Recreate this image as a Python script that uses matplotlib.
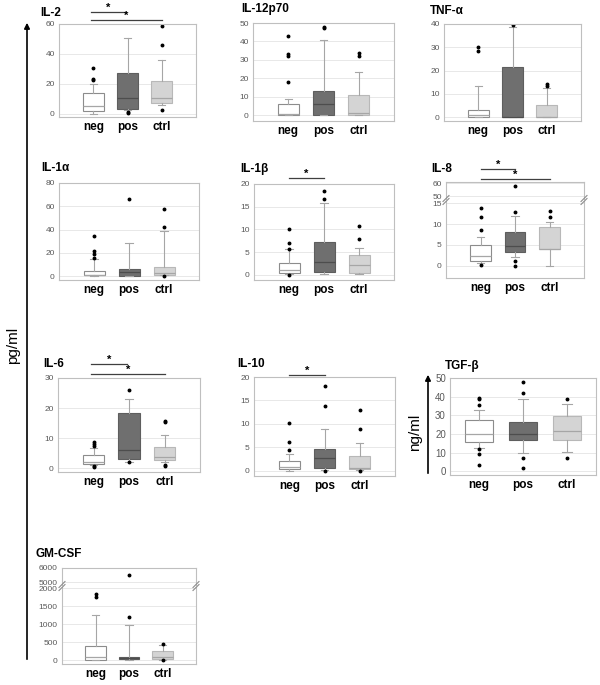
import matplotlib
matplotlib.use('Agg')
import matplotlib.pyplot as plt
from matplotlib.patches import FancyArrowPatch
from matplotlib.lines import Line2D
from matplotlib.transforms import blended_transform_factory

plt.rcParams['font.family'] = ['Liberation Sans', 'DejaVu Sans']

W, H = 600, 685
groups = ['neg', 'pos', 'ctrl']

# box stats per cytokine: whisker low, q1, median, q3, whisker high, outliers
il2_low = [0, 2.5, 6]
il2_q1 = [2.2, 3.1, 7.1]
il2_med = [5.5, 10.6, 10.6]
il2_q3 = [13.7, 27.2, 21.9]
il2_high = [20, 51, 36]
il2_out = [[30.5, 23.2, 22.4], [1.2, 0.5], [58.7, 45.8, 2.4]]

il12_low = [0, 0, 0]
il12_q1 = [0, 0.5, 0.3]
il12_med = [0.9, 6.0, 1.4]
il12_q3 = [6.0, 13.4, 11.0]
il12_high = [9, 40.8, 23.4]
il12_out = [[42.8, 33.2, 32.4, 18.1], [47.8, 47.3], [33.7, 31.9]]

tnf_low = [0, 0, 0]
tnf_q1 = [0, 0, 0]
tnf_med = [1.0, 0.2, 0.2]
tnf_q3 = [3.2, 21.4, 5.0]
tnf_high = [13.4, 38.5, 12.5]
tnf_out = [[30.3, 28.6], [39.5], [14.4, 13.3]]

il1a_low = [0, 0, 1]
il1a_q1 = [0.5, 0.2, 1.2]
il1a_med = [0.9, 3.4, 2.6]
il1a_q3 = [4.6, 6.3, 8.0]
il1a_high = [14.9, 28.4, 38.4]
il1a_out = [[34.4, 21.5, 18.6, 15.5], [66.5], [57.3, 42.2, 0.4]]

il1b_low = [0.3, 0.2, 0.2]
il1b_q1 = [0.4, 0.7, 0.5]
il1b_med = [1.2, 2.8, 2.1]
il1b_q3 = [2.7, 7.2, 4.5]
il1b_high = [5.7, 15.8, 5.9]
il1b_out = [[10.0, 7.0, 5.8, 0.1], [18.5, 16.8], [10.8, 8.0]]

il8_low = [0.6, 2.0, 0.0]
il8_q1 = [1.2, 3.2, 4.0]
il8_med = [2.4, 4.8, 4.1]
il8_q3 = [5.0, 8.2, 9.3]
il8_high = [7.0, 11.8, 10.6]
il8_out = [[13.8, 11.6, 8.6, 0.1], [57.9, 12.8, 1.2, 0.0], [13.2, 11.6]]

il6_low = [0.9, 2.0, 2.0]
il6_q1 = [1.3, 3.0, 2.8]
il6_med = [2.0, 6.0, 3.6]
il6_q3 = [4.3, 18.2, 7.0]
il6_high = [6.7, 23.0, 10.9]
il6_out = [[8.8, 8.0, 7.2, 0.8, 0.5], [26.0, 1.9], [15.8, 15.2, 1.0, 0.6]]

il10_low = [0, 0.1, 0.1]
il10_q1 = [0.3, 0.6, 0.3]
il10_med = [0.9, 2.7, 0.5]
il10_q3 = [2.1, 4.6, 3.1]
il10_high = [3.6, 8.9, 5.9]
il10_out = [[10.1, 6.2, 4.4], [18.1, 13.9, 0.0], [13.0, 8.9, 0.0]]

tgf_low = [12.5, 10.0, 10.4]
tgf_q1 = [15.7, 16.6, 16.6]
tgf_med = [19.8, 19.8, 21.6]
tgf_q3 = [27.7, 26.3, 29.7]
tgf_high = [33, 38.5, 36.0]
tgf_out = [[39.2, 38.6, 35.4, 12.0, 9.0, 3.2], [47.8, 41.9, 7.3, 1.8], [38.7, 7.3]]

gm_low = [0, 0, 0]
gm_q1 = [0, 19, 37]
gm_med = [93, 47, 75]
gm_q3 = [400, 93, 242]
gm_high = [1256, 967, 420]
gm_out = [[1833, 1750], [5500, 1190], [450, 10]]

face = ['white', '#6f6f6f', '#d4d4d4']
edge = ['#8c8c8c', '#5e5e5e', '#b8b8b8']
medc = ['#a6a6a6', '#4d4d4d', '#a6a6a6']

fig = plt.figure(figsize=(6, 6.85), dpi=100)


def panel(l, t, r, b):
    return fig.add_axes([l / W, 1 - b / H, (r - l) / W, (b - t) / H])


def boxes(ax, low, q1, med, q3, high, out, width=0.6):
    stats = [dict(whislo=low[i], q1=q1[i], med=med[i], q3=q3[i],
                  whishi=high[i], fliers=out[i]) for i in range(3)]
    art = ax.bxp(stats, positions=[1, 2, 3], widths=width, capwidths=width * 0.35,
                 patch_artist=True,
                 whiskerprops=dict(color='#a6a6a6', lw=0.8),
                 capprops=dict(color='#a6a6a6', lw=0.8),
                 flierprops=dict(marker='o', ms=1.8, mfc='black', mec='black'),
                 medianprops=dict(lw=0.9))
    for i in range(3):
        art['boxes'][i].set(facecolor=face[i], edgecolor=edge[i], lw=0.8)
        art['medians'][i].set_color(medc[i])


def style(ax, ylim, yticks, xlabels=True, xlim=(0, 4), ysize=6):
    ax.set_xlim(*xlim)
    ax.set_ylim(*ylim)
    ax.set_yticks(yticks)
    ax.tick_params(axis='y', length=0, labelsize=ysize, labelcolor='#595959', pad=3)
    ax.tick_params(axis='x', length=0, pad=3)
    if xlabels:
        ax.set_xticklabels(groups, fontsize=8.5, fontweight='bold')
    else:
        ax.set_xticklabels([])
    for s in ax.spines.values():
        s.set_color('#bfbfbf')
        s.set_linewidth(0.8)
    ax.grid(axis='y', color='#e8e8e8', lw=0.7)
    ax.set_axisbelow(True)


def title(x, y, s):
    fig.text(x / W, 1 - y / H, s, fontsize=8.5, fontweight='bold', va='center')


def sig(ax, y, x0, x1, ystar):
    tr = blended_transform_factory(ax.transData, fig.transFigure)
    ax.plot([x0, x1], [1 - y / H] * 2, transform=tr, color='#3f3f3f', lw=0.9, clip_on=False)
    ax.text((x0 + x1) / 2, 1 - ystar / H, '*', transform=tr, ha='center', va='center',
            fontsize=8, fontweight='bold', clip_on=False)


def brk(x, y):
    for dy in (-1.5, 1.5):
        fig.add_artist(Line2D([(x - 3) / W, (x + 3) / W],
                              [1 - (y + dy + 3) / H, 1 - (y + dy - 3) / H],
                              transform=fig.transFigure, color='#8c8c8c', lw=0.8))


def split(top, bot):
    top.spines['bottom'].set_visible(False)
    bot.spines['top'].set_visible(False)


# row 1
ax = panel(59, 24, 196, 117)
boxes(ax, il2_low, il2_q1, il2_med, il2_q3, il2_high, il2_out)
style(ax, (-2, 60), [0, 20, 40, 60])
title(40, 13, 'IL-2')
sig(ax, 12, 0.93, 1.95, 8)
sig(ax, 20, 0.93, 3.0, 16)

ax = panel(253, 23, 394, 121)
boxes(ax, il12_low, il12_q1, il12_med, il12_q3, il12_high, il12_out)
style(ax, (-3, 50), [0, 10, 20, 30, 40, 50])
title(241, 9, 'IL-12p70')

ax = panel(444, 24, 581, 121)
boxes(ax, tnf_low, tnf_q1, tnf_med, tnf_q3, tnf_high, tnf_out)
style(ax, (-1.7, 40), [0, 10, 20, 30, 40])
title(430, 11, 'TNF-α')

# row 2
ax = panel(59, 183, 199, 280)
boxes(ax, il1a_low, il1a_q1, il1a_med, il1a_q3, il1a_high, il1a_out)
style(ax, (-3.4, 80), [0, 20, 40, 60, 80])
title(41, 168, 'IL-1α')

ax = panel(254, 184, 394, 280)
boxes(ax, il1b_low, il1b_q1, il1b_med, il1b_q3, il1b_high, il1b_out)
style(ax, (-1.1, 20), [0, 5, 10, 15, 20])
title(240, 169, 'IL-1β')
sig(ax, 178, 1.0, 2.0, 174)

up = panel(446, 182, 584, 199)
boxes(up, il8_low, il8_q1, il8_med, il8_q3, il8_high, il8_out)
style(up, (47.7, 60.8), [50, 60], xlabels=False)
ax = panel(446, 201, 584, 278)
boxes(ax, il8_low, il8_q1, il8_med, il8_q3, il8_high, il8_out)
style(ax, (-2.9, 15.5), [0, 5, 10, 15])
split(up, ax)
brk(446, 200)
brk(584, 200)
title(431, 169, 'IL-8')
sig(up, 169, 1.0, 2.0, 165)
sig(up, 179, 1.0, 3.0, 175)

# row 3
ax = panel(58, 378, 200, 472)
boxes(ax, il6_low, il6_q1, il6_med, il6_q3, il6_high, il6_out)
style(ax, (-1.3, 30), [0, 10, 20, 30])
title(43, 364, 'IL-6')
sig(ax, 364, 0.93, 1.95, 360)
sig(ax, 374, 0.93, 3.0, 370)

ax = panel(254, 377, 395, 476)
boxes(ax, il10_low, il10_q1, il10_med, il10_q3, il10_high, il10_out)
style(ax, (-1.1, 20), [0, 5, 10, 15, 20])
title(237, 364, 'IL-10')
sig(ax, 375, 1.0, 2.0, 371)

ax = panel(450, 378, 596, 475)
boxes(ax, tgf_low, tgf_q1, tgf_med, tgf_q3, tgf_high, tgf_out, width=0.65)
style(ax, (-2, 50), [0, 10, 20, 30, 40, 50], xlim=(0.34, 3.66), ysize=7)
title(445, 366, 'TGF-β')

# row 4
up = panel(62, 568, 196, 585)
boxes(up, gm_low, gm_q1, gm_med, gm_q3, gm_high, gm_out)
style(up, (4800, 6000), [5000, 6000], xlabels=False)
ax = panel(62, 587, 196, 664)
boxes(ax, gm_low, gm_q1, gm_med, gm_q3, gm_high, gm_out)
style(ax, (-110, 2030), [0, 500, 1000, 1500, 2000])
split(up, ax)
brk(62, 586)
brk(196, 586)
title(36, 554, 'GM-CSF')

# unit arrows
fig.add_artist(FancyArrowPatch((27 / W, 1 - 662 / H), (27 / W, 1 - 20 / H),
                               transform=fig.transFigure, arrowstyle='-|>',
                               mutation_scale=8, lw=1.2, color='black'))
fig.text(13 / W, 1 - 345 / H, 'pg/ml', rotation=90, fontsize=11, ha='center', va='center')
fig.add_artist(FancyArrowPatch((428 / W, 1 - 476 / H), (428 / W, 1 - 372 / H),
                               transform=fig.transFigure, arrowstyle='-|>',
                               mutation_scale=8, lw=1.2, color='black'))
fig.text(415 / W, 1 - 432 / H, 'ng/ml', rotation=90, fontsize=11, ha='center', va='center')

fig.savefig('out.png', dpi=100)
